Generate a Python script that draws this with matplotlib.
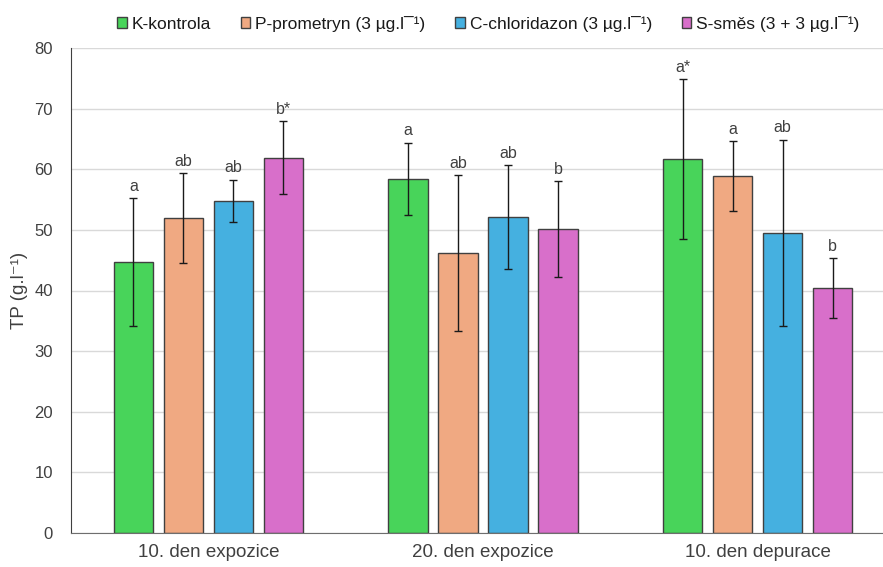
import numpy as np
from matplotlib import pyplot as plt
from matplotlib.patches import Patch

plt.rcParams['font.family'] = ['Liberation Sans', 'DejaVu Sans']

groups = ["10. den expozice", "20. den expozice", "10. den depurace"]
series = ["K-kontrola", "P-prometryn (3 µg.l\u00af\u00b9)",
          "C-chloridazon (3 µg.l\u00af\u00b9)", "S-směs (3 + 3 µg.l\u00af\u00b9)"]
colors = ["#48d45a", "#f0a982", "#45b0e0", "#d86fca"]

means = [
    [44.7, 58.4, 61.7],
    [52.0, 46.2, 58.9],
    [54.8, 52.1, 49.5],
    [61.9, 50.1, 40.4],
]
sds = [
    [10.6, 6.0, 13.2],
    [7.4, 12.8, 5.8],
    [3.5, 8.6, 15.4],
    [6.0, 7.9, 5.0],
]
letters = [
    ["a", "a", "a*"],
    ["ab", "ab", "a"],
    ["ab", "ab", "ab"],
    ["b*", "b", "b"],
]

fig = plt.figure(figsize=(8.83, 5.67), dpi=100)
ax = fig.add_axes([71/883, 34/567, 824/883, 485/567])

x = np.arange(len(groups))
pitch = 0.182
width = 0.144
for i in range(len(series)):
    xs = x + (i - 1.5) * pitch
    ax.bar(xs, means[i], width, color=colors[i], edgecolor="#404040",
           linewidth=1, zorder=2, label=series[i])
    ax.errorbar(xs, means[i], yerr=sds[i], fmt="none", ecolor="#1a1a1a",
                elinewidth=1, capsize=3.2, capthick=1, zorder=3)
    for j in range(len(groups)):
        ax.annotate(letters[i][j], (xs[j], means[i][j] + sds[i][j]),
                    xytext=(0, 3), textcoords="offset points",
                    ha="center", va="bottom", fontsize=11.5, color="#404040")

ax.set_xlim(-0.5, 2.5)
ax.set_ylim(0, 80)
ax.set_yticks(range(0, 81, 10))
ax.set_xticks(x)
ax.set_xticklabels(groups, fontsize=13.5)
ax.tick_params(axis="both", length=0, colors="#404040")
ax.tick_params(axis="y", pad=13, labelsize=12)
ax.tick_params(axis="x", pad=8)
ax.grid(axis="y", color="#d9d9d9", linewidth=1, zorder=0)
ax.set_axisbelow(True)
for s in ["top", "right"]:
    ax.spines[s].set_visible(False)
ax.spines["left"].set_color("#404040")
ax.spines["bottom"].set_color("#6e6e6e")
ax.set_ylabel("TP (g.l\u207b\u00b9)", fontsize=13.5, color="#404040")
ax.yaxis.set_label_coords(-0.052, 0.5)

handles = [Patch(facecolor=c, edgecolor="#404040", linewidth=1) for c in colors]
fig.legend(handles, series, loc="center", bbox_to_anchor=(0.553, 0.958), ncol=4,
           frameon=False, fontsize=12.5, handlelength=0.55, handleheight=0.55,
           handletextpad=0.3, columnspacing=1.7, labelcolor="#1a1a1a")

fig.savefig("out.png", dpi=100)
